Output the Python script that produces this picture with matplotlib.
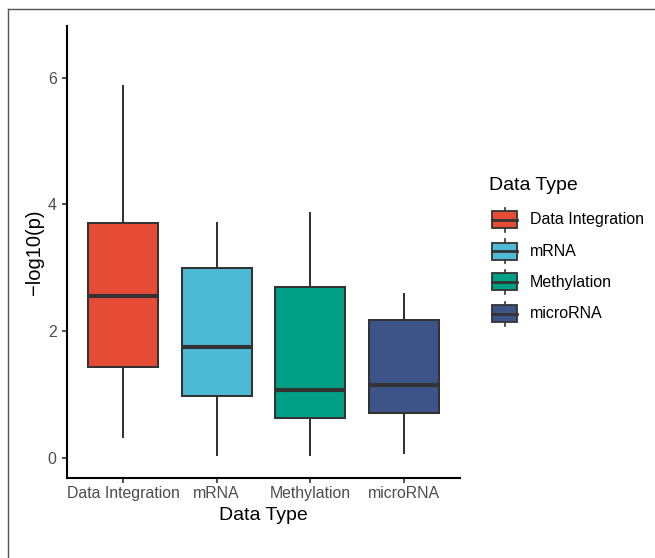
import matplotlib
matplotlib.use("Agg")
import matplotlib.pyplot as plt
from matplotlib.patches import Rectangle
from matplotlib.lines import Line2D

plt.rcParams['font.family'] = ['Liberation Sans', 'DejaVu Sans']

categories = ["Data Integration", "mRNA", "Methylation", "microRNA"]
whislo = [0.33, 0.05, 0.04, 0.08]
q1 = [1.43, 0.97, 0.63, 0.71]
med = [2.56, 1.75, 1.07, 1.15]
q3 = [3.71, 2.99, 2.69, 2.17]
whishi = [5.87, 3.71, 3.86, 2.58]
colors = ["#E64B35", "#4DBBD5", "#00A087", "#3C5488"]
yticks = [0, 2, 4, 6]

W, H = 655, 558
fig = plt.figure(figsize=(W / 100, H / 100), dpi=100)

def fx(px):
    return px / W

def fy(py):
    return 1 - py / H

left, right, top, bottom = 67, 460, 25.6, 478
ax = fig.add_axes([fx(left), fy(bottom), fx(right) - fx(left), fy(top) - fy(bottom)])

stats = []
for i, c in enumerate(categories):
    stats.append(dict(label=c, whislo=whislo[i], q1=q1[i], med=med[i], q3=q3[i], whishi=whishi[i], fliers=[]))

lw = 1.45
bp = ax.bxp(stats, positions=range(1, len(categories) + 1), widths=0.75, patch_artist=True,
            showcaps=False, showfliers=False,
            boxprops=dict(edgecolor="#333333", linewidth=lw),
            whiskerprops=dict(color="#333333", linewidth=lw),
            medianprops=dict(color="#333333", linewidth=3.0, solid_capstyle="butt"))
for patch, col in zip(bp['boxes'], colors):
    patch.set_facecolor(col)

ax.set_xlim(0.4, 4.6)
ax.set_ylim(-0.32, 6.82)
ax.set_yticks(yticks)
ax.set_yticklabels([str(v) for v in yticks])
ax.set_xticks(range(1, len(categories) + 1))
ax.set_xticklabels(categories)
for s in ["top", "right"]:
    ax.spines[s].set_visible(False)
for s in ["left", "bottom"]:
    ax.spines[s].set_linewidth(1.5)
    ax.spines[s].set_color("black")
ax.tick_params(axis="both", colors="#333333", labelcolor="#4D4D4D", labelsize=11.4, length=3.5, width=1.2, pad=2.5)
ax.tick_params(axis="y", pad=4)
ax.set_xlabel("Data Type", fontsize=14, color="black", labelpad=4)
ax.set_ylabel("\u2212log10(p)", fontsize=14.5, color="black", labelpad=3)

# legend
fig.text(fx(489), fy(185), "Data Type", fontsize=14, va="center", ha="left")
key_y = [219.6, 251, 282, 313.5]
for i, c in enumerate(categories):
    cy = key_y[i]
    kx0, kx1 = 492, 517
    fig.add_artist(Line2D([fx((kx0 + kx1) / 2)] * 2, [fy(cy - 12), fy(cy + 12)], color="#333333", lw=1.2, zorder=1))
    fig.add_artist(Rectangle((fx(kx0), fy(cy + 8.5)), fx(kx1) - fx(kx0), fy(cy - 8.5) - fy(cy + 8.5),
                             facecolor=colors[i], edgecolor="#333333", lw=1.3, transform=fig.transFigure, zorder=2))
    fig.add_artist(Line2D([fx(kx0), fx(kx1)], [fy(cy), fy(cy)], color="#333333", lw=2.0, zorder=3))
    fig.text(fx(529.5), fy(cy), c, fontsize=11.5, va="center", ha="left", color="black")

# outer border (top and left)
fig.add_artist(Line2D([fx(8), fx(655)], [fy(9), fy(9)], color="#555555", lw=1.0))
fig.add_artist(Line2D([fx(8), fx(8)], [fy(9), fy(558)], color="#555555", lw=1.0))

fig.savefig("out.png", dpi=100)
